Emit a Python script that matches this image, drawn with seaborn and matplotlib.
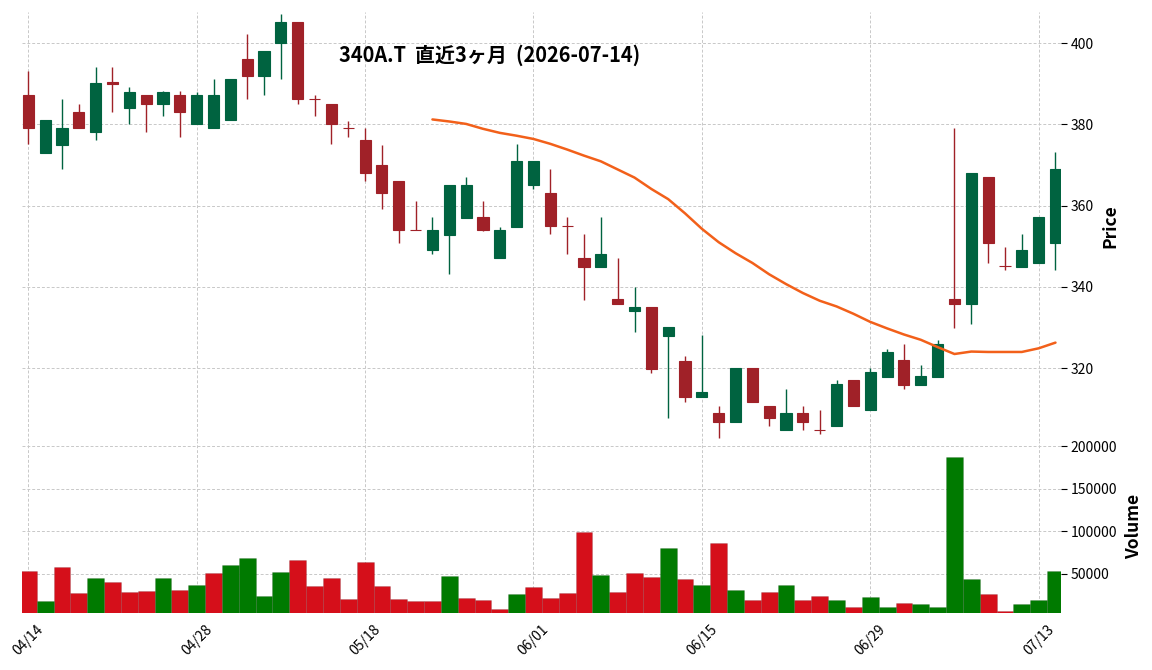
import matplotlib
matplotlib.use("Agg")
import matplotlib.pyplot as plt
import seaborn as sns
import numpy as np
import pandas as pd

# daily candles, 2026-04-14 .. 2026-07-14 (62 trading days)
opens = [387.3, 373.0, 375.0, 383.0, 378.0, 390.3, 384.0, 387.3, 385.0, 387.3,
         380.0, 379.0, 381.0, 396.0, 392.0, 400.0, 405.2, 386.3, 385.0, 379.1,
         376.2, 370.0, 366.0, 354.1, 349.0, 352.8, 357.0, 357.2, 347.0, 354.8,
         365.0, 363.2, 355.1, 347.2, 345.0, 337.0, 334.0, 335.0, 328.0, 321.9,
         312.9, 308.9, 306.7, 320.0, 310.8, 304.7, 308.9, 304.9, 305.8, 317.0,
         309.7, 317.8, 322.0, 315.9, 317.8, 337.0, 335.8, 367.0, 345.2, 344.9,
         345.9, 350.9]
highs = [393.2, 381.0, 386.2, 385.0, 394.1, 394.1, 389.2, 387.3, 388.2, 388.2,
         388.0, 391.1, 391.2, 402.3, 398.1, 407.1, 405.2, 387.2, 385.0, 380.9,
         379.0, 375.0, 366.0, 361.1, 357.1, 365.1, 367.0, 361.1, 354.8, 375.1,
         371.0, 368.9, 357.1, 352.9, 357.1, 347.0, 339.9, 335.0, 330.1, 322.9,
         328.1, 310.8, 320.0, 320.0, 310.8, 315.0, 310.8, 309.8, 317.0, 317.0,
         320.0, 324.8, 325.9, 320.9, 326.9, 379.2, 368.0, 367.0, 349.9, 352.9,
         357.2, 373.1]
lows = [375.2, 373.0, 368.9, 379.0, 376.1, 383.0, 380.0, 378.0, 382.0, 377.0,
        380.0, 379.0, 381.0, 386.2, 387.2, 391.1, 385.0, 382.0, 375.2, 377.0,
        366.0, 359.1, 350.9, 354.0, 348.0, 343.1, 357.0, 353.8, 347.0, 354.8,
        364.0, 352.9, 348.0, 336.9, 345.0, 335.8, 328.9, 318.8, 307.8, 311.7,
        312.9, 302.9, 306.7, 311.7, 305.8, 304.7, 304.8, 303.9, 305.8, 310.7,
        309.7, 317.8, 315.0, 315.9, 317.8, 329.9, 331.0, 345.9, 344.1, 344.9,
        345.9, 344.1]
closes = [379.0, 381.0, 379.0, 379.0, 390.2, 390.0, 388.0, 385.0, 388.0, 383.0,
          387.3, 387.3, 391.2, 392.0, 398.0, 405.2, 386.2, 386.2, 380.0, 379.0,
          368.0, 363.0, 354.0, 354.0, 354.0, 365.0, 365.0, 353.9, 353.9, 371.0,
          371.0, 355.0, 355.0, 345.0, 348.1, 335.8, 335.0, 319.8, 330.1, 312.9,
          314.1, 306.7, 320.0, 311.7, 307.7, 308.9, 306.7, 304.8, 316.0, 310.7,
          319.0, 323.9, 315.9, 318.1, 325.9, 335.8, 368.0, 350.9, 345.1, 349.1,
          357.2, 369.0]
volumes = [52800, 17400, 57500, 26800, 44500, 39800, 28000, 29200, 44500, 30400,
           36300, 50400, 59800, 68100, 23300, 51600, 65700, 35100, 44500, 19800,
           63400, 35100, 19800, 17400, 17400, 46900, 20900, 18600, 8000, 25600,
           33900, 20900, 26800, 98700, 48800, 28900, 51200, 46500, 80500, 44100,
           37100, 86300, 31300, 19500, 28900, 37100, 19500, 24200, 18400, 11300,
           23000, 10200, 16000, 14800, 11300, 187000, 44100, 26600, 6600, 14800,
           18400, 53500]

# 25-day moving average, starts at the 25th candle
ma_start = 24
ma25 = [381.2, 380.7, 380.1, 378.9, 377.9, 377.2, 376.4, 375.2, 373.8, 372.3,
        370.9, 368.9, 366.9, 364.1, 361.6, 358.1, 354.3, 351.0, 348.3, 345.9,
        343.1, 340.7, 338.5, 336.6, 335.2, 333.4, 331.4, 329.8, 328.3, 327.0,
        325.2, 323.5, 324.1, 324.0, 324.0, 324.0, 324.9, 326.3]

tick_pos = [0, 10, 20, 30, 40, 50, 60]
tick_labels = ['04/14', '04/28', '05/18', '06/01', '06/15', '06/29', '07/13']
title = '340A.T  直近3ヶ月  (2026-07-14)'

UP, DOWN = '#006340', '#a02128'
VUP, VDOWN = '#007a00', '#d50f1a'

sns.set_theme(style='white')
plt.rcParams['font.family'] = ['Noto Sans CJK JP', 'DejaVu Sans']
plt.rcParams['text.color'] = 'black'
plt.rcParams['axes.labelcolor'] = 'black'

n = len(closes)
df = pd.DataFrame({'i': np.arange(n), 'open': opens, 'high': highs,
                   'low': lows, 'close': closes, 'volume': volumes})
df['up'] = df['close'] > df['open']
prev = df['close'].shift(1).fillna(df['open'])
df['vdir'] = np.where(df['close'] > prev, 'up', 'down')

fig = plt.figure(figsize=(11.52, 6.70), dpi=100)
ax_p = fig.add_axes([0.0191, 0.3418, 0.9015, 0.6407])
ax_v = fig.add_axes([0.0191, 0.0855, 0.9015, 0.2563])

grid_kw = dict(linestyle=(0, (3, 2)), linewidth=0.7, color='#c8c8c8')

# candles
body_col = np.where(df['up'], UP, DOWN)
ax_p.vlines(df['i'], df['low'], df['high'], colors=body_col, linewidth=1.0, zorder=2)
bottoms = np.minimum(df['open'], df['close'])
heights = np.abs(df['close'] - df['open'])
ax_p.bar(df['i'], heights, bottom=bottoms, width=0.66, color=body_col,
         edgecolor=body_col, linewidth=0.8, zorder=3)

ma_df = pd.DataFrame({'i': np.arange(ma_start, ma_start + len(ma25)), 'ma': ma25})
sns.lineplot(data=ma_df, x='i', y='ma', ax=ax_p, color='#f2601a', linewidth=1.8, zorder=4)

ax_p.set_xlim(-0.374, 61.3)
ax_p.set_ylim(302.1, 407.7)
ax_p.set_xticks(tick_pos)
ax_p.tick_params(axis='x', length=0, labelbottom=False)
ax_p.set_yticks([320, 340, 360, 380, 400])
ax_p.yaxis.tick_right()
ax_p.tick_params(axis='y', length=4, width=0.8, pad=3, labelsize=10, colors='black')
ax_p.set_xlabel('')
ax_p.set_ylabel('Price', fontsize=12.5, fontweight='bold', color='black')
ax_p.yaxis.set_label_position('right')
ax_p.yaxis.set_label_coords(1.039, 0.5)
ax_p.grid(True, **grid_kw)

# volume
sns.barplot(data=df, x='i', y='volume', hue='vdir', palette={'up': VUP, 'down': VDOWN},
            dodge=False, width=1.0, saturation=1, legend=False, ax=ax_v,
            edgecolor=(0, 0, 0, 0.15), linewidth=0.5)
ax_v.set_xlim(-0.374, 61.3)
ax_v.set_ylim(4000, 206000)
ax_v.set_xticks(tick_pos)
ax_v.set_xticklabels(tick_labels, rotation=45, ha='center')
ax_v.tick_params(axis='x', length=3, width=0.8, pad=4, labelsize=10, colors='black')
ax_v.set_yticks([50000, 100000, 150000, 200000])
ax_v.set_yticklabels(['50000', '100000', '150000', '200000'])
ax_v.yaxis.tick_right()
ax_v.tick_params(axis='y', length=4, width=0.8, pad=3, labelsize=10, colors='black')
ax_v.set_xlabel('')
ax_v.set_ylabel('Volume', fontsize=12.5, fontweight='bold', color='black')
ax_v.yaxis.set_label_position('right')
ax_v.yaxis.set_label_coords(1.0617, 0.5)
ax_v.grid(True, **grid_kw)

for ax in (ax_p, ax_v):
    ax.set_axisbelow(True)
    for s in ax.spines.values():
        s.set_visible(False)

fig.text(0.4253, 0.917, title, ha='center', va='center', fontsize=14.4,
         fontweight='bold', color='black')

fig.savefig('out.png', dpi=100)
